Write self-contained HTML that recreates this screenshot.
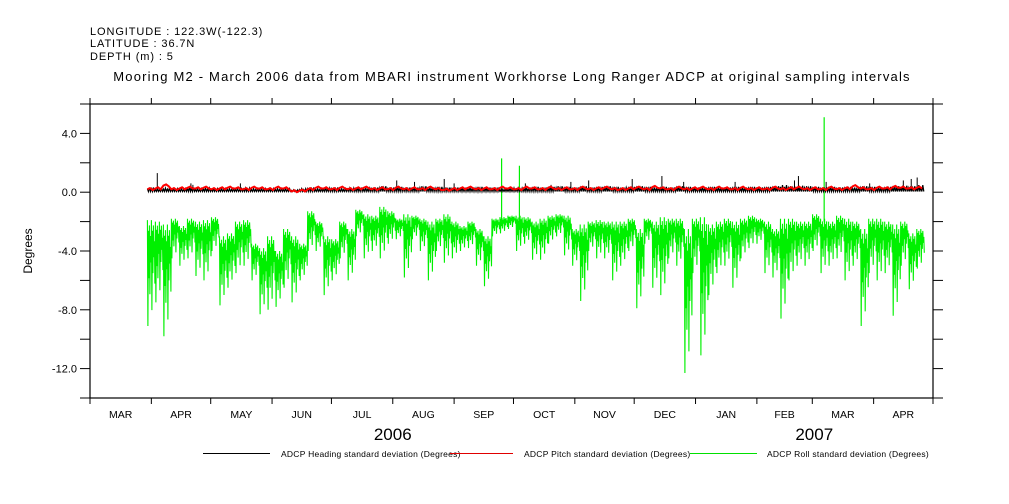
<!DOCTYPE html>
<html><head><meta charset="utf-8">
<style>
body{margin:0;background:#fff;}
svg{display:block;font-family:"Liberation Sans",sans-serif;}
</style></head>
<body>
<svg id="chart" width="1009" height="504" viewBox="0 0 1009 504" xmlns="http://www.w3.org/2000/svg">
<g font-size="11" fill="#000" letter-spacing="0.9">
<text x="90" y="35">LONGITUDE : 122.3W(-122.3)</text>
<text x="90" y="47">LATITUDE : 36.7N</text>
<text x="90" y="60">DEPTH (m) : 5</text>
</g>
<text x="512" y="81" font-size="13" letter-spacing="1.2" text-anchor="middle">Mooring M2 - March 2006 data from MBARI instrument Workhorse Long Ranger ADCP at original sampling intervals</text>
<text x="0" y="0" font-size="12" text-anchor="middle" transform="translate(32,251) rotate(-90)">Degrees</text>
<g id="plot"></g>
<g id="axes"></g>
<g font-size="8.5" letter-spacing="0.25">
<line x1="203" y1="453.5" x2="270" y2="453.5" stroke="#000"/>
<text x="281" y="457">ADCP Heading standard deviation (Degrees)</text>
<line x1="450" y1="453.5" x2="513" y2="453.5" stroke="#e00000"/>
<text x="524" y="457">ADCP Pitch standard deviation (Degrees)</text>
<line x1="690" y1="453.5" x2="757" y2="453.5" stroke="#00e000"/>
<text x="767" y="457">ADCP Roll standard deviation (Degrees)</text>
</g>
</svg>
<script>
// ---- data ----
const monthLabels = ["MAR","APR","MAY","JUN","JUL","AUG","SEP","OCT","NOV","DEC","JAN","FEB","MAR","APR"];
const monthStartDays = [0,31,61,92,122,153,184,214,245,275,306,337,365,396,426];
const yearLabels = ["2006","2007"];
const yearLabelDays = [153,366];
const yTickLabels = ["4.0","0.0","-4.0","-8.0","-12.0"];
const yTickValues = [4,0,-4,-8,-12];
const binStartDay = 29;
const binDays = 4.05;
const rollHi = [-1.9,-2.0,-2.2,-1.8,-2.3,-1.8,-2.0,-1.9,-1.7,-3.0,-2.8,-2.0,-1.9,-3.5,-3.8,-3.0,-4.0,-2.5,-3.0,-3.5,-1.3,-2.0,-3.0,-3.2,-2.0,-2.5,-1.2,-1.5,-1.6,-1.0,-1.3,-1.8,-1.5,-1.6,-1.8,-2.0,-1.8,-1.5,-2.0,-2.3,-2.0,-2.5,-3.0,-1.8,-1.7,-1.6,-1.6,-1.7,-2.0,-1.8,-1.6,-1.5,-1.6,-2.5,-2.2,-2.0,-1.9,-2.0,-2.0,-2.0,-1.8,-2.5,-1.8,-2.0,-1.7,-1.8,-1.8,-2.5,-1.8,-1.7,-2.2,-2.0,-1.8,-2.0,-1.8,-1.6,-1.8,-2.0,-2.5,-1.8,-1.8,-2.0,-2.0,-1.5,-1.8,-2.0,-1.6,-1.8,-2.0,-2.5,-1.8,-1.8,-2.0,-2.2,-2.0,-2.8,-2.5];
const rollLo = [-9.1,-7.5,-9.8,-4.5,-5.0,-4.5,-5.7,-6.0,-4.0,-7.7,-6.5,-5.5,-5.0,-6.0,-8.3,-8.0,-7.8,-6.5,-7.5,-6.0,-4.0,-4.0,-7.0,-6.0,-4.5,-6.0,-3.0,-4.5,-4.0,-4.5,-3.5,-3.2,-5.8,-3.2,-4.0,-6.0,-4.0,-4.8,-4.5,-4.0,-3.8,-5.0,-6.4,-3.0,-2.8,-2.5,-4.0,-3.5,-4.6,-4.6,-3.5,-3.0,-4.3,-5.0,-7.4,-4.0,-4.5,-4.5,-6.0,-5.0,-4.0,-7.9,-3.5,-6.5,-7.0,-4.5,-5.0,-12.3,-5.5,-11.1,-7.0,-5.5,-5.0,-6.5,-4.5,-3.8,-3.5,-5.5,-5.8,-8.6,-6.0,-5.0,-5.0,-4.0,-5.5,-5.0,-4.5,-6.0,-5.0,-9.1,-5.5,-6.0,-5.5,-8.4,-5.0,-6.6,-5.2];
const rollSpikeDays = [208,217,371];
const rollSpikeVals = [2.3,1.8,5.1];
const pitchVals = [0.2,0.25,0.45,0.2,0.25,0.3,0.25,0.3,0.2,0.25,0.3,0.25,0.2,0.3,0.25,0.2,0.3,0.25,0.05,0.1,0.2,0.3,0.25,0.2,0.3,0.2,0.25,0.3,0.2,0.25,0.2,0.3,0.2,0.25,0.2,0.3,0.2,0.15,0.2,0.25,0.3,0.2,0.25,0.2,0.3,0.25,0.2,0.3,0.25,0.2,0.3,0.2,0.25,0.2,0.3,0.2,0.25,0.3,0.2,0.2,0.25,0.3,0.2,0.35,0.25,0.2,0.3,0.2,0.25,0.3,0.2,0.3,0.25,0.2,0.3,0.2,0.25,0.2,0.3,0.2,0.25,0.3,0.2,0.25,0.2,0.3,0.2,0.25,0.4,0.25,0.2,0.3,0.25,0.35,0.3,0.25,0.3];
const headingHi = [0.4,0.3,0.35,0.3,0.3,0.4,0.3,0.35,0.3,0.3,0.3,0.3,0.35,0.3,0.3,0.3,0.3,0.3,0.2,0.3,0.4,0.3,0.35,0.4,0.3,0.35,0.4,0.35,0.4,0.5,0.4,0.45,0.4,0.4,0.5,0.4,0.45,0.4,0.4,0.4,0.4,0.45,0.4,0.4,0.3,0.35,0.35,0.4,0.45,0.4,0.45,0.5,0.45,0.4,0.5,0.4,0.45,0.5,0.45,0.4,0.45,0.5,0.45,0.4,0.45,0.4,0.5,0.45,0.4,0.4,0.45,0.4,0.4,0.45,0.4,0.45,0.4,0.45,0.5,0.6,0.5,0.55,0.5,0.45,0.4,0.45,0.4,0.45,0.4,0.5,0.45,0.4,0.45,0.5,0.55,0.5,0.6];
const headingSpikeDays = [34,51,52,76,155,164,179,184,220,233,243,252,274,289,300,326,356,358,372,394,411,415,418];
const headingSpikeVals = [1.3,0.6,0.5,0.6,0.8,0.7,0.9,0.6,0.6,0.5,0.7,0.8,0.9,1.1,0.7,0.7,0.8,1.1,0.7,0.6,0.8,0.9,1.0];

// ---- axes ----
const X0=90, X1=933, Y0=104, Y1=398, D0=0, D1=426, V0=-14, V1=6;
const xs = d => X0 + (d-D0)/(D1-D0)*(X1-X0);
const ys = v => Y1 - (v-V0)/(V1-V0)*(Y1-Y0);
const NS="http://www.w3.org/2000/svg";
function mk(tag, attrs, parent){const e=document.createElementNS(NS,tag);for(const k in attrs)e.setAttribute(k,attrs[k]);parent.appendChild(e);return e;}
const plot=document.getElementById('plot'), axes=document.getElementById('axes');

// roll: dense zigzag within each bin's range
const rollShape=[0,1,0.1,0.55,0.05,0.7,0.15,0.4,0,0.85,0.1,0.5,0.05,0.35,0.2,0.6];
let rp=[];
for(let i=0;i<rollHi.length;i++){
  const d=binStartDay+i*binDays, h=rollHi[i], l=rollLo[i];
  rollShape.forEach((f,k)=>rp.push([d+binDays*k/rollShape.length, h+(l-h)*f]));
}
const roll=mk('polyline',{points:rp.map(p=>xs(p[0]).toFixed(1)+','+ys(p[1]).toFixed(1)).join(' '),fill:'none',stroke:'#00f000','stroke-width':1.1},plot);


for(let i=0;i<rollSpikeDays.length;i++){
  const s=mk('line',{x1:xs(rollSpikeDays[i]),x2:xs(rollSpikeDays[i]),y1:ys(-2),y2:ys(rollSpikeVals[i]),stroke:'#00f000','stroke-width':1.2},plot);
  
  
}
// heading
let hp=[];
for(let i=0;i<headingHi.length;i++){
  const d=binStartDay+i*binDays;
  for(let k=0;k<4;k++){
    hp.push([d+binDays*k/4,headingHi[i]*(k%2?0.8:0.6)],[d+binDays*(k+0.5)/4,0.05]);
  }
}
const head=mk('polyline',{points:hp.map(p=>xs(p[0]).toFixed(1)+','+ys(p[1]).toFixed(1)).join(' '),fill:'none',stroke:'#000','stroke-width':1.2},plot);


for(let i=0;i<headingSpikeDays.length;i++){
  const s=mk('line',{x1:xs(headingSpikeDays[i]),x2:xs(headingSpikeDays[i]),y1:ys(0.1),y2:ys(headingSpikeVals[i]),stroke:'#000','stroke-width':1},plot);
  
  
}
// pitch
let pp=[];
pitchVals.forEach((v,i)=>{
  const d=binStartDay+i*binDays;
  pp.push([d,v],[d+binDays*0.33,v+0.08],[d+binDays*0.66,v-0.05]);
});
const pitch=mk('polyline',{points:pp.map(p=>xs(p[0]).toFixed(1)+','+ys(p[1]).toFixed(1)).join(' '),fill:'none',stroke:'#ff0000','stroke-width':2},plot);



// frame
const fr=mk('rect',{x:X0,y:Y0,width:X1-X0,height:Y1-Y0,fill:'none',stroke:'#000','stroke-width':1.2},axes);


for(let v=V0;v<=V1;v+=2){
  const y=ys(v);
  const a=mk('line',{x1:X0-10,x2:X0,y1:y,y2:y,stroke:'#000'},axes);
  
  
  const b=mk('line',{x1:X1,x2:X1+10,y1:y,y2:y,stroke:'#000'},axes);
  
  
}
yTickValues.forEach((v,i)=>{
  const t=mk('text',{x:X0-13,y:ys(v)+4,'font-size':11,'text-anchor':'end'},axes);
  t.textContent=yTickLabels[i];
  
  
});
monthStartDays.forEach(d=>{
  const x=xs(d);
  const a=mk('line',{x1:x,x2:x,y1:Y1,y2:Y1+6,stroke:'#000'},axes);
  
  
  const b=mk('line',{x1:x,x2:x,y1:Y0-6,y2:Y0,stroke:'#000'},axes);
  
  
});
monthLabels.forEach((m,i)=>{
  const t=mk('text',{x:(xs(monthStartDays[i])+xs(monthStartDays[i+1]))/2,y:418,'font-size':10.5,'text-anchor':'middle'},axes);
  t.textContent=m;
  
  
});
yearLabels.forEach((yl,i)=>{
  const t=mk('text',{x:xs(yearLabelDays[i]),y:440,'font-size':17,'text-anchor':'middle'},axes);
  t.textContent=yl;
  
  
});
</script>
</body></html>
